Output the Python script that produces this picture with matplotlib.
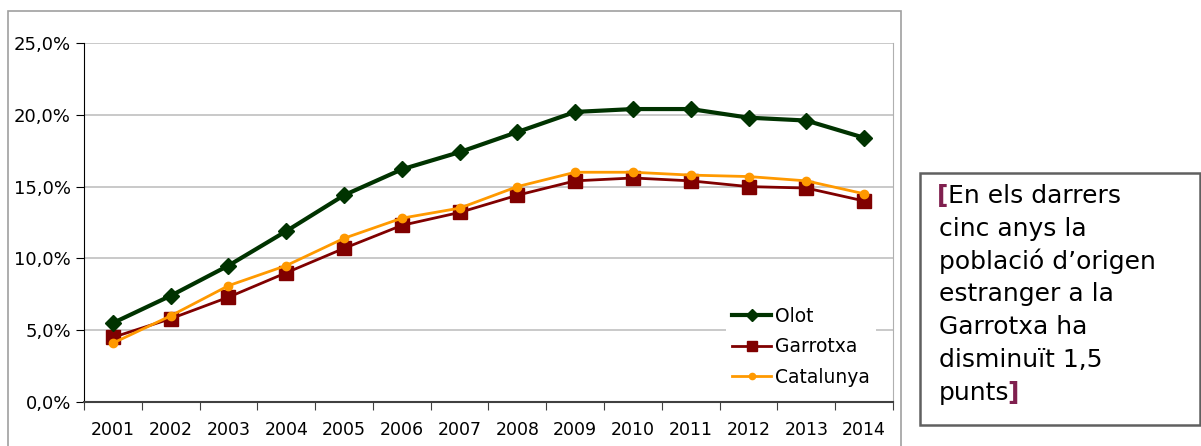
import matplotlib.pyplot as plt
import numpy as np
from matplotlib.patches import Rectangle
from matplotlib.ticker import FuncFormatter, FixedLocator

years = [str(y) for y in range(2001, 2015)]
olot = [5.5, 7.4, 9.5, 11.9, 14.4, 16.2, 17.4, 18.8, 20.2, 20.4, 20.4, 19.8, 19.6, 18.4]
garrotxa = [4.5, 5.8, 7.3, 9.0, 10.7, 12.3, 13.2, 14.4, 15.4, 15.6, 15.4, 15.0, 14.9, 14.0]
catalunya = [4.1, 6.0, 8.1, 9.5, 11.4, 12.8, 13.5, 15.0, 16.0, 16.0, 15.8, 15.7, 15.4, 14.5]
note_lines = ["En els darrers", "cinc anys la", "població d\u2019origen",
              "estranger a la", "Garrotxa ha", "disminuït 1,5", "punts"]

W, H = 1201, 446
fig = plt.figure(figsize=(W / 100, H / 100), dpi=100)
plt.rcParams['font.family'] = ['DejaVu Sans']

# outer chart frame
fig.patches.append(Rectangle((8 / W, -0.05), (901 - 8) / W, 1.05 - 11 / H,
                             transform=fig.transFigure, fill=False,
                             edgecolor='#a0a0a0', linewidth=1.2))

ax = fig.add_axes([84 / W, (H - 402) / H, (893 - 84) / W, (402 - 43) / H])
x = np.arange(len(years))
ax.plot(x, olot, color='#003300', lw=3, marker='D', ms=8, label='Olot', zorder=4)
ax.plot(x, garrotxa, color='#800000', lw=2, marker='s', ms=10, label='Garrotxa', zorder=3)
ax.plot(x, catalunya, color='#ff9900', lw=2, marker='o', ms=6, label='Catalunya', zorder=5)

ax.set_xlim(-0.5, len(years) - 0.5)
ax.set_ylim(0, 25)
ax.set_yticks(np.arange(0, 26, 5))
ax.yaxis.set_major_formatter(FuncFormatter(lambda v, p: f"{v:.1f}%".replace('.', ',')))
ax.xaxis.set_major_locator(FixedLocator(np.arange(-0.5, len(years), 1)))
ax.xaxis.set_minor_locator(FixedLocator(x))
ax.set_xticklabels([])
ax.set_xticklabels(years, minor=True)
ax.tick_params(axis='x', which='major', length=6, direction='out', color='#404040')
ax.tick_params(axis='x', which='minor', length=0, labelsize=12.5, pad=14)
ax.tick_params(axis='y', length=6, direction='out', labelsize=13, color='#000000')
ax.grid(axis='y', color='#c0c0c0', lw=1.2)
ax.set_axisbelow(True)
ax.spines['left'].set_color('#000000')
ax.spines['bottom'].set_color('#404040')
ax.spines['bottom'].set_linewidth(1.5)
ax.spines['top'].set_visible(False)
ax.spines['right'].set_color('#b0b0b0')

leg = ax.legend(loc='lower right', bbox_to_anchor=(0.99, 0.0), frameon=True,
                fontsize=13.5, handlelength=2.1, handletextpad=0.2, markerscale=0.75,
                labelspacing=0.62, borderpad=0.3)
leg.get_frame().set_edgecolor('none')
leg.get_frame().set_facecolor('white')
leg.get_frame().set_alpha(1)

# note box
fig.patches.append(Rectangle((920 / W, (H - 425) / H), 280 / W, (425 - 173) / H,
                             transform=fig.transFigure, fill=False,
                             edgecolor='#606060', linewidth=1.8))
brk = '#80204f'
fs = 18
x0 = 939 / W
fig.canvas.draw()
for i, line in enumerate(note_lines):
    yb = (H - (203 + i * 32.8)) / H
    if i == 0:
        b = fig.text(x0 - 2 / W, yb, "[", fontsize=fs, color=brk, fontweight='bold', va='baseline')
        fig.canvas.draw()
        bb = b.get_window_extent()
        fig.text(bb.x1 / W, yb, line, fontsize=fs, va='baseline')
    elif i == len(note_lines) - 1:
        t = fig.text(x0, yb, line, fontsize=fs, va='baseline')
        fig.canvas.draw()
        bb = t.get_window_extent()
        fig.text(bb.x1 / W - 2 / W, yb, "]", fontsize=fs, color=brk, fontweight='bold', va='baseline')
    else:
        fig.text(x0, yb, line, fontsize=fs, va='baseline')

fig.savefig('out.png', dpi=100)
